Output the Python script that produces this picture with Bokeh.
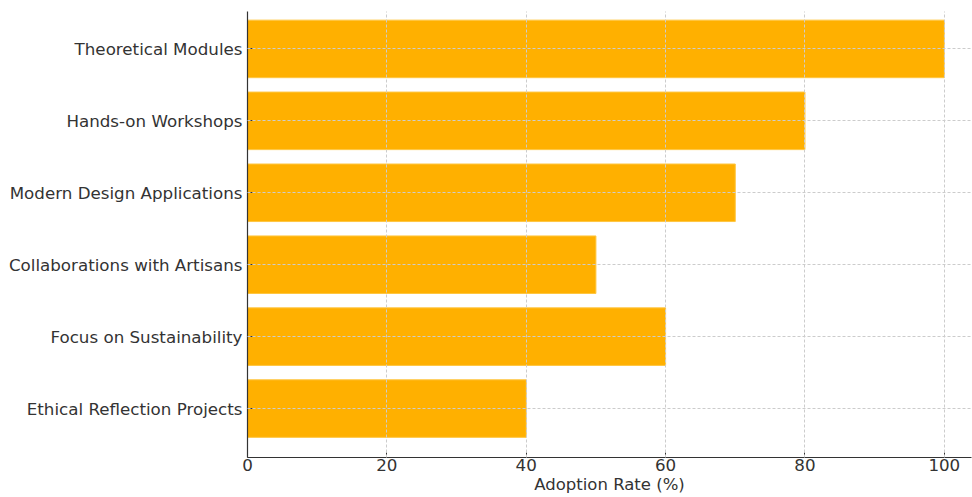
from bokeh.plotting import figure
from bokeh.models import Range1d, FixedTicker
from bokeh.embed import file_html
from bokeh.resources import INLINE

categories = ["Theoretical Modules", "Hands-on Workshops", "Modern Design Applications",
              "Collaborations with Artisans", "Focus on Sustainability", "Ethical Reflection Projects"]
adoption = [100, 80, 70, 50, 60, 40]
x_ticks = [0, 20, 40, 60, 80, 100]

n = len(categories)
ypos = [n - 1 - i for i in range(n)]

p = figure(width=972, height=497, output_backend="svg", toolbar_location=None,
           x_range=Range1d(0, 103.9), y_range=Range1d(-0.68, n - 1 + 0.52),
           min_border_left=247, min_border_right=1, min_border_top=11, min_border_bottom=40)
p.outline_line_color = None
p.background_fill_color = "white"
p.border_fill_color = "white"

p.hbar(y=ypos, right=adoption, left=0, height=0.8, fill_color="#FFB000",
       line_color="#FFC640", line_width=1)

font = "DejaVu Sans"
txt = "#333333"

p.yaxis.ticker = FixedTicker(ticks=ypos)
p.yaxis.major_label_overrides = {y: c for y, c in zip(ypos, categories)}
p.xaxis.ticker = FixedTicker(ticks=x_ticks)
p.xaxis.axis_label = "Adoption Rate (%)"

for ax in (p.xaxis[0], p.yaxis[0]):
    ax.major_label_text_font = font
    ax.major_label_text_font_size = "16.7px"
    ax.major_label_text_color = txt
    ax.axis_line_color = "#333333"
    ax.axis_line_width = 1.2
    ax.major_tick_line_color = "#333333"
    ax.major_tick_in = 5
    ax.major_tick_out = 0
    ax.minor_tick_line_color = None
    ax.major_label_standoff = 5
p.xaxis.major_label_standoff = 1

p.xaxis.axis_label_text_font = font
p.xaxis.axis_label_text_font_size = "16.5px"
p.xaxis.axis_label_text_font_style = "normal"
p.xaxis.axis_label_text_color = txt
p.xaxis.axis_label_standoff = 1

for g in (p.xgrid[0], p.ygrid[0]):
    g.grid_line_color = "#cccccc"
    g.grid_line_dash = "3 2"
    g.grid_line_width = 1
    g.level = "overlay"
p.xgrid.ticker = FixedTicker(ticks=x_ticks)
p.ygrid.ticker = FixedTicker(ticks=ypos)

open("out.html", "w").write(file_html(p, INLINE))
